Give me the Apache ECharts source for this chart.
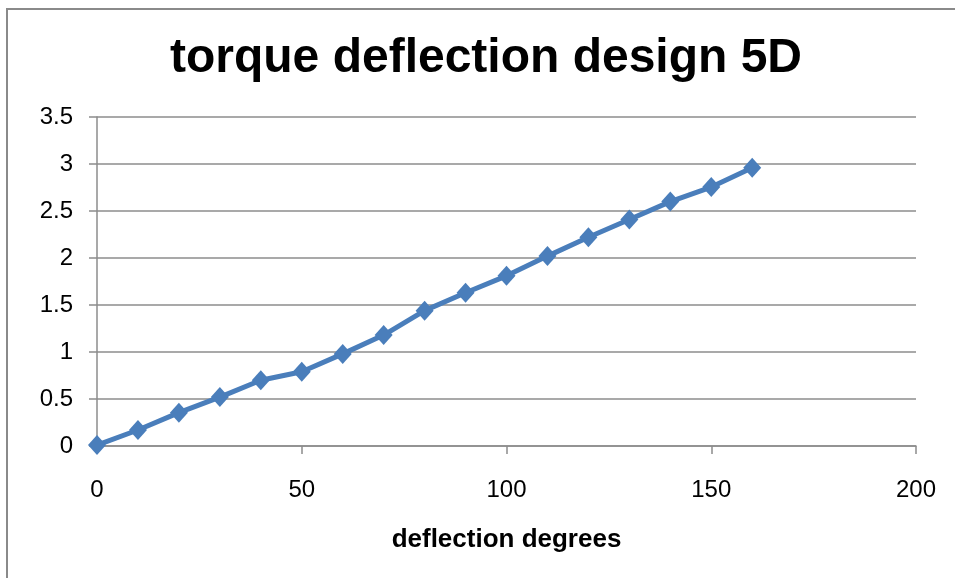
<!DOCTYPE html>
<html>
<head>
<meta charset="utf-8">
<script src="https://cdn.jsdelivr.net/npm/echarts@6/dist/echarts.min.js"></script>
<style>
html,body{margin:0;padding:0;background:#fff;}
#chart{width:955px;height:578px;}
</style>
</head>
<body>
<div id="chart"></div>
<script>
var titleText = 'torque deflection design 5D';
var xAxisName = 'deflection degrees';
var deflection = [0, 10, 20, 30, 40, 50, 60, 70, 80, 90, 100, 110, 120, 130, 140, 150, 160];
var torque = [0.01, 0.17, 0.355, 0.52, 0.70, 0.79, 0.98, 1.18, 1.44, 1.63, 1.81, 2.02, 2.22, 2.41, 2.60, 2.755, 2.96];

var points = deflection.map(function (d, i) { return [d, torque[i]]; });

var chart = echarts.init(document.getElementById('chart'), null, {renderer: 'canvas'});
chart.setOption({
  animation: false,
  backgroundColor: '#ffffff',
  title: {
    text: titleText,
    left: 481,
    textAlign: 'center',
    top: 30,
    textStyle: {
      fontFamily: 'Liberation Sans, Arial, sans-serif',
      fontSize: 48,
      fontWeight: 'bold',
      color: '#000000'
    }
  },
  graphic: [{
    type: 'rect',
    shape: {x: 7, y: 9, width: 1200, height: 1000},
    style: {fill: 'none', stroke: '#8a8a8a', lineWidth: 2},
    silent: true
  }],
  grid: {left: 97, right: 39, top: 117, bottom: 132},
  xAxis: {
    type: 'value',
    min: 0, max: 200, interval: 50,
    name: xAxisName,
    nameLocation: 'middle',
    nameGap: 81,
    nameTextStyle: {
      fontFamily: 'Liberation Sans, Arial, sans-serif',
      fontSize: 26, fontWeight: 'bold', color: '#000'
    },
    axisLine: {show: true, onZero: false, lineStyle: {color: '#8c8c8c', width: 1.5}},
    axisTick: {show: true, length: 8, lineStyle: {color: '#8c8c8c', width: 1.5}},
    axisLabel: {
      margin: 32,
      fontFamily: 'Liberation Sans, Arial, sans-serif',
      fontSize: 24, color: '#000'
    },
    splitLine: {show: false}
  },
  yAxis: {
    type: 'value',
    min: 0, max: 3.5, interval: 0.5,
    axisLine: {show: true, lineStyle: {color: '#8c8c8c', width: 1.5}},
    axisTick: {show: true, length: 8, lineStyle: {color: '#8c8c8c', width: 1.5}},
    axisLabel: {
      margin: 24,
      fontFamily: 'Liberation Sans, Arial, sans-serif',
      fontSize: 24, color: '#000'
    },
    splitLine: {show: true, lineStyle: {color: '#8c8c8c', width: 1.5}}
  },
  series: [{
    type: 'line',
    data: points,
    symbol: 'diamond',
    symbolSize: [18, 20],
    showAllSymbol: true,
    lineStyle: {color: '#4a7ebb', width: 5},
    itemStyle: {color: '#4a7ebb'},
    clip: false
  }]
});
</script>
</body>
</html>
